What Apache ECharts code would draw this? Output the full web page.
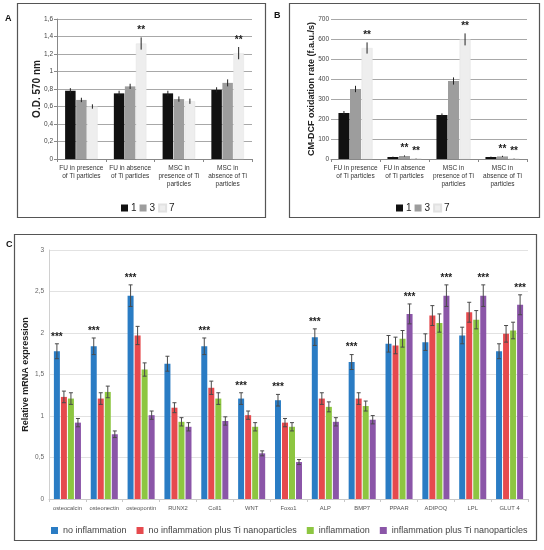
<!DOCTYPE html>
<html>
<head>
<meta charset="utf-8">
<script src="https://cdn.jsdelivr.net/npm/echarts@6/dist/echarts.min.js"></script>
<style>
html, body { margin: 0; padding: 0; background: #fff; }
#main { width: 544px; height: 550px; }
</style>
</head>
<body>
<div id="main"></div>
<script>
// ---- panels A and B ----
var groupsAB = ['FU in presence\nof Ti particles', 'FU in absence\nof Ti particles',
    'MSC in\npresence of Ti\nparticles', 'MSC in\nabsence of Ti\nparticles'];
var days = ['1', '3', '7'];

var odDay1 = [0.78, 0.75, 0.75, 0.79];
var odDay3 = [0.675, 0.83, 0.685, 0.87];
var odDay7 = [0.6, 1.32, 0.66, 1.21];
var odErr1 = [0.03, 0.03, 0.03, 0.03];
var odErr3 = [0.025, 0.03, 0.03, 0.04];
var odErr7 = [0.025, 0.07, 0.03, 0.07];
var odStars = [[1, 2], [3, 2]];            // [group, day index]

var roxDay1 = [230, 10, 220, 10];
var roxDay3 = [350, 15, 390, 13];
var roxDay7 = [555, 3, 598, 3];
var roxErr1 = [10, 2, 8, 2];
var roxErr3 = [16, 3, 18, 3];
var roxErr7 = [28, 1, 30, 1];
var roxStars = [[0, 2], [1, 1], [1, 2], [2, 2], [3, 1], [3, 2]];

// ---- panel C ----
var genes = ['osteocalcin', 'osteonectin', 'osteopontin', 'RUNX2', 'Coll1', 'WNT', 'Foxo1',
    'ALP', 'BMP7', 'PPAAR', 'ADIPOQ', 'LPL', 'GLUT 4'];
var conditions = ['no inflammation', 'no inflammation plus Ti nanoparticles',
    'inflammation', 'inflammation plus Ti nanoparticles'];
var noInfl      = [1.78, 1.84, 2.45, 1.63, 1.84, 1.21, 1.19, 1.95, 1.65, 1.87, 1.89, 1.97, 1.78];
var noInflTi    = [1.23, 1.21, 1.97, 1.10, 1.34, 1.01, 0.92, 1.21, 1.21, 1.85, 2.21, 2.25, 1.99];
var infl        = [1.21, 1.29, 1.56, 0.93, 1.21, 0.87, 0.87, 1.11, 1.12, 1.93, 2.12, 2.16, 2.03];
var inflTi      = [0.92, 0.78, 1.01, 0.87, 0.94, 0.55, 0.445, 0.93, 0.955, 2.23, 2.45, 2.45, 2.34];
var noInflErr   = [0.09, 0.10, 0.13, 0.09, 0.10, 0.07, 0.07, 0.10, 0.09, 0.10, 0.10, 0.10, 0.09];
var noInflTiErr = [0.07, 0.07, 0.11, 0.06, 0.08, 0.05, 0.05, 0.07, 0.07, 0.10, 0.12, 0.12, 0.10];
var inflErr     = [0.07, 0.07, 0.08, 0.05, 0.07, 0.05, 0.05, 0.06, 0.06, 0.10, 0.11, 0.11, 0.10];
var inflTiErr   = [0.05, 0.04, 0.05, 0.05, 0.05, 0.03, 0.03, 0.05, 0.05, 0.12, 0.13, 0.13, 0.12];
var geneStars = [[0, 0], [1, 0], [2, 0], [4, 0], [5, 0], [6, 0], [7, 0], [8, 0],
    [9, 3], [10, 3], [11, 3], [12, 3]];

var FONT = 'Arial, "Liberation Sans", sans-serif';
var greys = ['#111111', '#9d9d9d', '#eeeeee'];
var colorsC = ['#2a7cc4', '#e64a4e', '#8dc641', '#8b56a8'];

var myChart = echarts.init(document.getElementById('main'));

function comma(v) { return String(v).replace('.', ','); }

// pixel offset of bar i among n bars of width bw with gap ratio g
function barOffset(i, n, bw, g) {
    return (i - (n - 1) / 2) * bw * (1 + g);
}

function errSeries(gi, vals, errs, off, cap, color) {
    return {
        type: 'custom', xAxisIndex: gi, yAxisIndex: gi, z: 5, silent: true,
        data: vals.map(function (v, k) { return [k, v, errs[k]]; }),
        renderItem: function (params, api) {
            var hi = api.coord([api.value(0), api.value(1) + api.value(2)]);
            var lo = api.coord([api.value(0), api.value(1) - api.value(2)]);
            var x = hi[0] + off;
            var kids = [{ type: 'line', shape: { x1: x, y1: hi[1], x2: x, y2: lo[1] },
                style: { stroke: color, lineWidth: 1 } }];
            if (cap) {
                kids.push({ type: 'line', shape: { x1: x - cap, y1: hi[1], x2: x + cap, y2: hi[1] },
                    style: { stroke: color, lineWidth: 1 } });
                kids.push({ type: 'line', shape: { x1: x - cap, y1: lo[1], x2: x + cap, y2: lo[1] },
                    style: { stroke: color, lineWidth: 1 } });
            }
            return { type: 'group', children: kids };
        }
    };
}

function starSeries(gi, stars, valSets, errSets, n, bw, g, txt, lift) {
    return {
        type: 'custom', xAxisIndex: gi, yAxisIndex: gi, z: 6, silent: true,
        data: stars.map(function (s) {
            return [s[0], valSets[s[1]][s[0]] + errSets[s[1]][s[0]], s[1]];
        }),
        renderItem: function (params, api) {
            var p = api.coord([api.value(0), api.value(1)]);
            return { type: 'text', x: p[0] + barOffset(api.value(2), n, bw, g), y: p[1] - lift,
                style: { text: txt, fill: '#222', font: 'bold 10px ' + FONT,
                    align: 'center', verticalAlign: 'middle' } };
        }
    };
}

var series = [];

// panels A and B bars
var odVals = [odDay1, odDay3, odDay7], odErrs = [odErr1, odErr3, odErr7];
var roxVals = [roxDay1, roxDay3, roxDay7], roxErrs = [roxErr1, roxErr3, roxErr7];
[[0, odVals, odErrs, odStars, 10.5], [1, roxVals, roxErrs, roxStars, 11]].forEach(function (p) {
    var gi = p[0];
    days.forEach(function (d, i) {
        series.push({
            name: d, type: 'bar', xAxisIndex: gi, yAxisIndex: gi,
            barWidth: p[4], barGap: '5%', data: p[1][i],
            itemStyle: { color: greys[i], borderColor: i === 2 ? '#e2e2e2' : greys[i], borderWidth: i === 2 ? 0.5 : 0 }
        });
    });
    days.forEach(function (d, i) {
        series.push(errSeries(gi, p[1][i], p[2][i], barOffset(i, 3, p[4], 0.05), 0, '#222'));
    });
    series.push(starSeries(gi, p[3], p[1], p[2], 3, p[4], 0.05, '**', 7));
});

// panel C bars
var cVals = [noInfl, noInflTi, infl, inflTi];
var cErrs = [noInflErr, noInflTiErr, inflErr, inflTiErr];
conditions.forEach(function (c, i) {
    series.push({
        name: c, type: 'bar', xAxisIndex: 2, yAxisIndex: 2,
        barWidth: 6, barGap: '17%', data: cVals[i],
        itemStyle: { color: colorsC[i] }
    });
});
conditions.forEach(function (c, i) {
    series.push(errSeries(2, cVals[i], cErrs[i], barOffset(i, 4, 6, 0.17), 2, '#4a4a4a'));
});
series.push(starSeries(2, geneStars, cVals, cErrs, 4, 6, 0.17, '***', 7));

var legendAB = {
    data: days, icon: 'rect', itemWidth: 7, itemHeight: 7, itemGap: 3,
    textStyle: { fontFamily: FONT, fontSize: 10, color: '#222', padding: [0, 0, 0, -2] }
};

option = {
    animation: false,
    textStyle: { fontFamily: FONT },
    graphic: [
        { type: 'rect', shape: { x: 17.5, y: 3.5, width: 248, height: 214 },
          style: { fill: 'none', stroke: '#555', lineWidth: 1.2 } },
        { type: 'rect', shape: { x: 289.5, y: 3.5, width: 250, height: 214 },
          style: { fill: 'none', stroke: '#555', lineWidth: 1.2 } },
        { type: 'rect', shape: { x: 14.5, y: 234.5, width: 522, height: 306 },
          style: { fill: 'none', stroke: '#555', lineWidth: 1.2 } },
        { type: 'text', x: 5, y: 14, style: { text: 'A', font: 'bold 9px ' + FONT, fill: '#111' } },
        { type: 'text', x: 274, y: 11, style: { text: 'B', font: 'bold 9px ' + FONT, fill: '#111' } },
        { type: 'text', x: 6, y: 240, style: { text: 'C', font: 'bold 9px ' + FONT, fill: '#111' } }
    ],
    legend: [
        echarts.util.extend({ left: 116, top: 198 }, legendAB),
        echarts.util.extend({ left: 391, top: 198 }, legendAB),
        {
            data: conditions, left: 46, top: 521, icon: 'rect', itemWidth: 7, itemHeight: 7, itemGap: 10,
            textStyle: { fontFamily: FONT, fontSize: 9, color: '#444' }
        }
    ],
    grid: [
        { left: 57, top: 19, width: 195, height: 140 },
        { left: 331, top: 19, width: 196, height: 140 },
        { left: 49, top: 250, width: 479, height: 249 }
    ],
    xAxis: [0, 1, 2].map(function (gi) {
        return {
            type: 'category', gridIndex: gi, data: gi === 2 ? genes : groupsAB,
            axisLine: { lineStyle: { color: gi === 2 ? '#c8c8c8' : '#888' } },
            axisTick: { show: true, length: 3, lineStyle: { color: gi === 2 ? '#c8c8c8' : '#888' } },
            axisLabel: {
                interval: 0, margin: 5,
                fontSize: gi === 2 ? 5.8 : 6.5, lineHeight: 8,
                color: gi === 2 ? '#555' : '#333'
            }
        };
    }),
    yAxis: [
        {
            type: 'value', gridIndex: 0, min: 0, max: 1.6, interval: 0.2,
            name: 'O.D. 570 nm', nameLocation: 'middle', nameGap: 15, nameMoveOverlap: false,
            nameTextStyle: { fontSize: 10, fontWeight: 'bold', color: '#222' },
            axisLine: { show: true, lineStyle: { color: '#888' } },
            axisTick: { show: true, length: 3, lineStyle: { color: '#888' } },
            axisLabel: { fontSize: 6.5, color: '#444', margin: 4, formatter: comma },
            splitLine: { lineStyle: { color: '#a8a8a8' } }
        },
        {
            type: 'value', gridIndex: 1, min: 0, max: 700, interval: 100,
            name: 'CM-DCF oxidation rate (f.a.u./s)', nameLocation: 'middle', nameGap: 15, nameMoveOverlap: false,
            nameTextStyle: { fontSize: 9, fontWeight: 'bold', color: '#222' },
            axisLine: { show: false },
            axisTick: { show: false },
            axisLabel: { fontSize: 6.5, color: '#444', margin: 2 },
            splitLine: { lineStyle: { color: '#a8a8a8' } }
        },
        {
            type: 'value', gridIndex: 2, min: 0, max: 3, interval: 0.5,
            name: 'Relative mRNA expression', nameLocation: 'middle', nameGap: 19, nameMoveOverlap: false,
            nameTextStyle: { fontSize: 9, fontWeight: 'bold', color: '#222' },
            axisLine: { show: true, lineStyle: { color: '#d0d0d0' } },
            axisTick: { show: false },
            axisLabel: { fontSize: 6.5, color: '#666', margin: 5, formatter: comma },
            splitLine: { lineStyle: { color: '#e2e2e2' } }
        }
    ],
    series: series
};

myChart.setOption(option);
</script>
</body>
</html>
